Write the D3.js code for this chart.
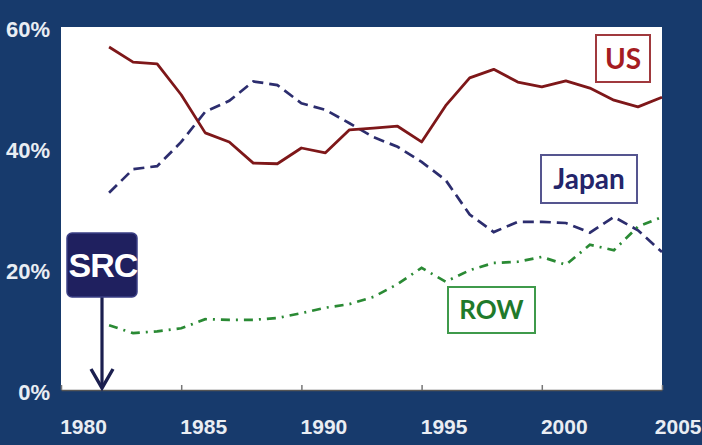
<!DOCTYPE html>
<html>
<head>
<meta charset="utf-8">
<script src="https://cdn.jsdelivr.net/npm/d3@7"></script>
<style>
  html, body { margin: 0; padding: 0; background: #173a6c; }
  svg { display: block; }
</style>
</head>
<body>
<svg id="chart" width="702" height="445"></svg>
<script>
// ---- data ----
const years = [1982,1983,1984,1985,1986,1987,1988,1989,1990,1991,1992,1993,1994,1995,1996,1997,1998,1999,2000,2001,2002,2003,2004,2005];
const usShare    = [56.7,54.2,53.9,48.8,42.5,41.0,37.5,37.4,40.0,39.2,43.0,43.3,43.6,41.0,47.0,51.6,53.0,50.9,50.1,51.1,49.9,47.9,46.8,48.4];
const japanShare = [32.6,36.5,37.0,41.0,46.0,47.8,51.0,50.4,47.4,46.3,44.1,41.8,40.2,37.7,34.7,29.0,26.1,27.8,27.8,27.6,26.0,28.6,26.4,22.8];
const rowShare   = [10.7,9.4,9.7,10.2,11.7,11.6,11.6,11.9,12.7,13.6,14.2,15.4,17.5,20.2,17.9,19.8,21.0,21.2,22.0,20.7,24.0,23.1,27.0,28.6];
const xTicks = [1980,1985,1990,1995,2000,2005];
const yTicks = [0,20,40,60];
const seriesNames = ["US","Japan","ROW"];

// ---- layout ----
const svg = d3.select("#chart");
const plot = {left: 61, right: 662, top: 27, bottom: 390};
const x = d3.scaleLinear().domain([1980, 2005]).range([plot.left, plot.right]);
const y = d3.scaleLinear().domain([0, 60]).range([plot.bottom, plot.top]);

// background
svg.append("rect").attr("width", 702).attr("height", 445).attr("fill", "#173a6c");
svg.append("rect")
  .attr("x", plot.left).attr("y", plot.top)
  .attr("width", plot.right - plot.left).attr("height", plot.bottom - plot.top)
  .attr("fill", "#ffffff");

// x axis
const xAxis = svg.append("g")
  .attr("transform", `translate(0,${plot.bottom})`)
  .call(d3.axisBottom(x).tickValues(xTicks).tickFormat(d3.format("d")).tickSize(-5).tickSizeOuter(0));
xAxis.select(".domain").attr("stroke", "#555").attr("stroke-width", 1.5);
xAxis.selectAll(".tick line").attr("stroke", "#777").attr("stroke-width", 1.5);
xAxis.selectAll(".tick text")
  .attr("y", 44).attr("dy", 0).attr("dx", d => d === 2005 ? 39 : 22)
  .attr("text-anchor", d => d === 2005 ? "end" : "middle")
  .attr("fill", "#e9edf3")
  .style("font-family", "'Liberation Sans Narrow', 'Liberation Sans', Arial, sans-serif")
  .style("font-weight", "bold").style("font-size", "21px");

// y axis
const yAxis = svg.append("g")
  .attr("transform", `translate(50,0)`)
  .call(d3.axisLeft(y).tickValues(yTicks).tickFormat(d => d + "%").tickSize(0).tickPadding(0));
yAxis.select(".domain").remove();
yAxis.selectAll(".tick text")
  .attr("dy", "0.42em")
  .attr("fill", "#e9edf3")
  .style("font-family", "'Liberation Sans Narrow', 'Liberation Sans', Arial, sans-serif")
  .style("font-weight", "bold").style("font-size", "22px");

// lines
const line = vals => d3.line().x((d, i) => x(years[i])).y(d => y(d))(vals);

svg.append("path").attr("d", line(japanShare))
  .attr("fill", "none").attr("stroke", "#2c2d6e").attr("stroke-width", 2.7)
  .attr("stroke-dasharray", "11,6");
svg.append("path").attr("d", line(rowShare))
  .attr("fill", "none").attr("stroke", "#2a8a34").attr("stroke-width", 2.7)
  .attr("stroke-dasharray", "9,6,2,6");
svg.append("path").attr("d", line(usShare))
  .attr("fill", "none").attr("stroke", "#7e1719").attr("stroke-width", 2.8)
  .attr("stroke-linejoin", "round");

// labels
const labels = [
  {name: seriesNames[0], x: 596, y: 35, w: 54, h: 47, color: "#a51c22", border: "#a0393d", size: 28},
  {name: seriesNames[1], x: 541, y: 155, w: 96, h: 48, color: "#24256b", border: "#55558f", size: 28},
  {name: seriesNames[2], x: 448, y: 287, w: 87, h: 46, color: "#1f7a2b", border: "#3f9a4b", size: 26}
];
labels.forEach(l => {
  svg.append("rect").attr("x", l.x).attr("y", l.y).attr("width", l.w).attr("height", l.h)
    .attr("fill", "#fff").attr("stroke", l.border).attr("stroke-width", 2);
  svg.append("text").attr("x", l.x + l.w / 2).attr("y", l.y + l.h / 2)
    .attr("text-anchor", "middle").attr("dy", "0.36em")
    .attr("fill", l.color)
    .style("font-family", "Lato, 'Open Sans', sans-serif").style("font-weight", "bold")
    .style("font-size", l.size + "px")
    .text(l.name);
});

// SRC logo with arrow
const logo = svg.append("g");
logo.append("line").attr("x1", 102).attr("y1", 296).attr("x2", 102).attr("y2", 388)
  .attr("stroke", "#1b1f4f").attr("stroke-width", 3.2);
logo.append("path").attr("d", "M91,369 L102,388 L113,369")
  .attr("fill", "none").attr("stroke", "#1b1f4f").attr("stroke-width", 3.4);
logo.append("rect").attr("x", 67).attr("y", 233).attr("width", 70).attr("height", 64)
  .attr("rx", 5).attr("fill", "#1f205f").attr("stroke", "#3b3f85").attr("stroke-width", 1.5);
logo.append("text").attr("x", 103).attr("y", 277).attr("text-anchor", "middle")
  .attr("fill", "#ffffff")
  .style("font-family", "'Liberation Sans Narrow', 'Liberation Sans', Arial, sans-serif")
  .style("font-weight", "bold").style("font-size", "34px").style("letter-spacing", "-1px")
  .text("SRC");
</script>
</body>
</html>
